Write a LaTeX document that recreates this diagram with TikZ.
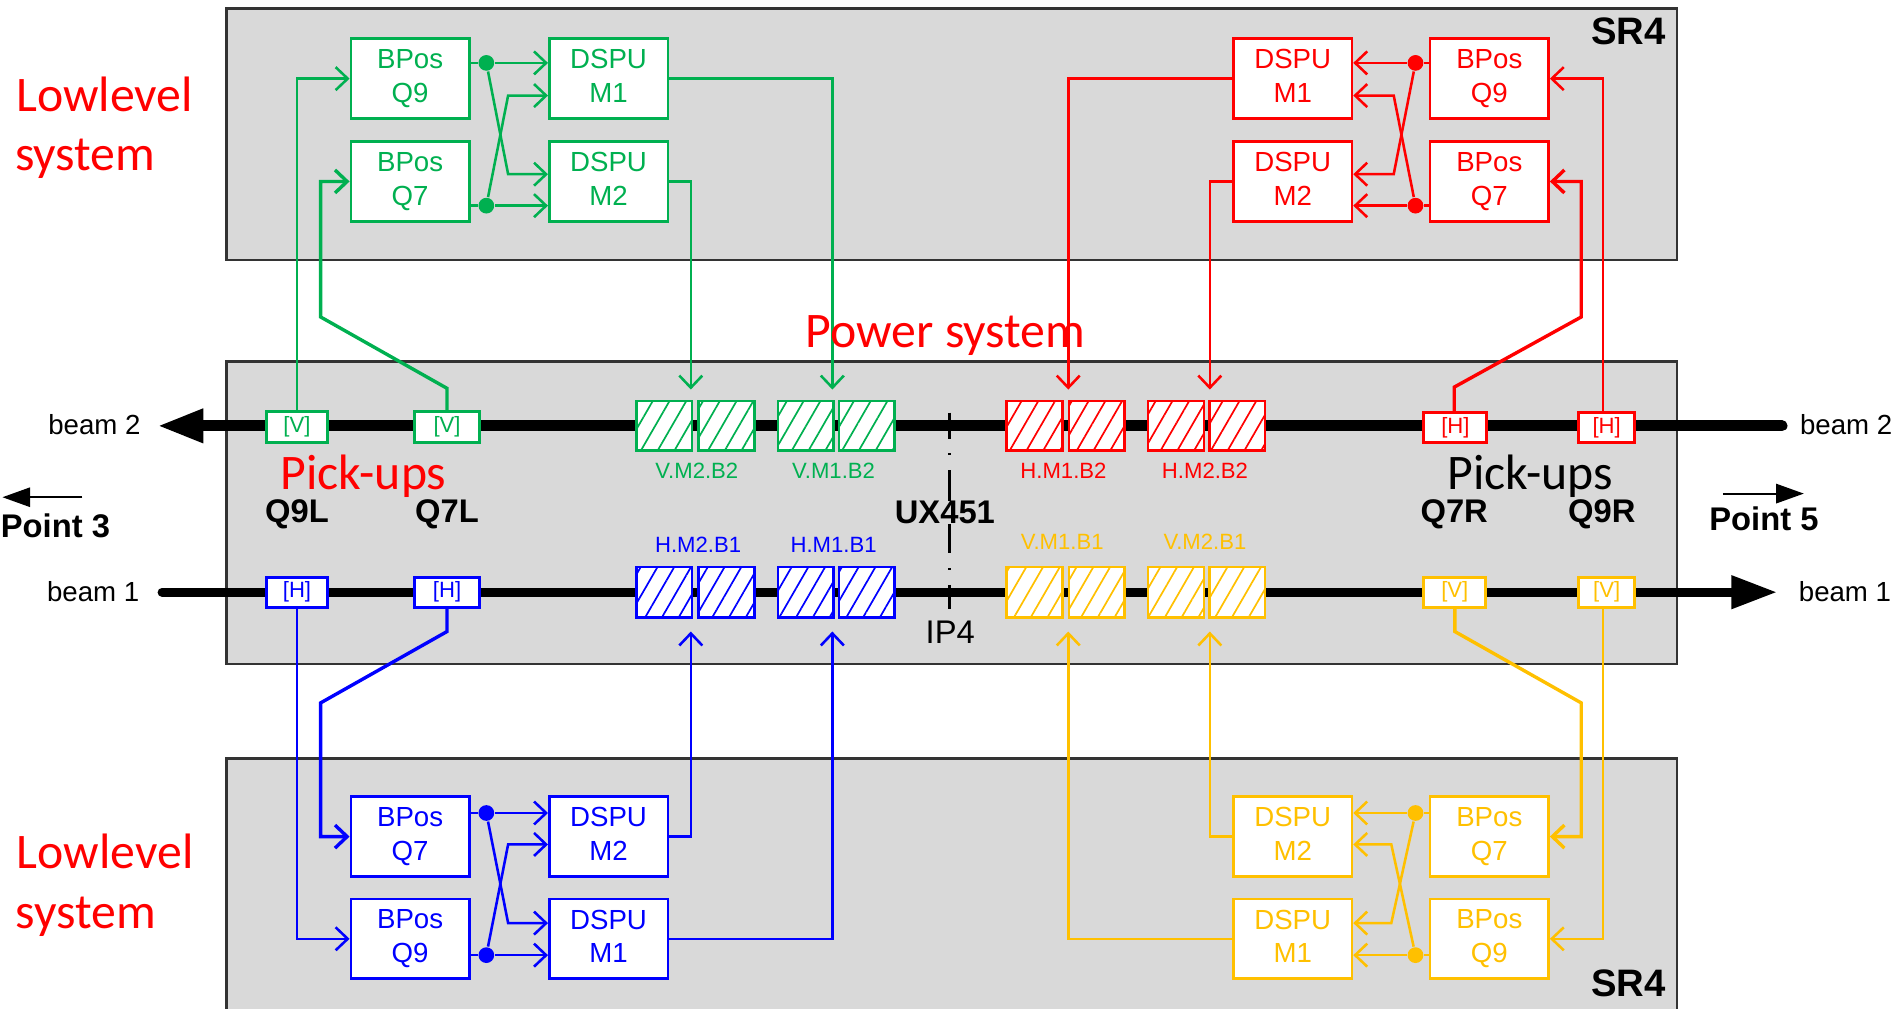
\documentclass[tikz,border=0pt]{standalone}
\usepackage{xcolor}
\usepackage{fontspec}
\setmainfont{Liberation Sans}
\newfontfamily\calfont{Carlito}
\usetikzlibrary{arrows.meta,patterns.meta}
\definecolor{grn}{HTML}{00B050}
\definecolor{blu}{HTML}{0000FF}
\definecolor{rd}{HTML}{FF0000}
\definecolor{yel}{HTML}{FFC000}
\definecolor{room}{HTML}{D9D9D9}

\begin{document}
\begin{tikzpicture}[x=0.1mm,y=-0.1mm,
    dspbox/.style={draw=#1,fill=white,text=#1,line width=0.6pt,minimum width=9.8mm,minimum height=6.6mm,inner sep=0pt,align=center,font=\fontsize{6.5}{7.9}\selectfont},
    pickbox/.style={draw=#1,fill=white,text=#1,line width=0.7pt,minimum height=2.5mm,inner sep=0pt,font=\fontsize{5.2}{6}\selectfont},
    magnet/.style={draw=#1,fill=white,line width=0.6pt,minimum width=4.6mm,minimum height=4.1mm,inner sep=0pt,postaction={pattern={Lines[angle=60,distance=1.2mm,line width=0.4pt]},pattern color=#1}},
    junction/.style={circle,fill=#1,minimum size=1.3mm,inner sep=0pt},
    wire/.style={draw=#1,line width=0.6pt},
    sig/.style={draw=#1,line width=0.6pt,-{Straight Barb[length=1mm,width=1.9mm]}},
    magname/.style={text=#1,font=\fontsize{5.2}{6}\selectfont},
    bigred/.style={text=#1,font=\calfont\fontsize{11.7}{13}\selectfont},
    bold/.style={font=\bfseries\fontsize{7.7}{9}\selectfont},
    beamname/.style={font=\fontsize{6.5}{8}\selectfont},
    hall/.style={draw=black!80,fill=room,line width=0.6pt}]
    \useasboundingbox (0,0) rectangle (1568,834);

    % Gray halls
    \draw[hall] (187,7) rectangle (1386,215);
    \draw[hall] (187,299) rectangle (1386,549);
    \fill[room] (187,627) rectangle (1386,834);
    \draw[black!80,line width=0.6pt] (187,834) -- (187,627) -- (1386,627) -- (1386,834);

    % Beam lines
    \coordinate (b2right) at (1473,352);
    \coordinate (b2left) at (130,352);
    \coordinate (b1left) at (134,489.5);
    \coordinate (b1right) at (1469,489.5);
    \draw[line width=0.9mm,line cap=round,-{Triangle[length=3.8mm,width=2.6mm]}] (b2right) -- (b2left);
    \draw[line width=0.75mm,line cap=round,-{Triangle[length=3.8mm,width=2.6mm]}] (b1left) -- (b1right);

    % IP line
    \coordinate (iptop) at (785,341);
    \coordinate (ipbot) at (785,503);
    \draw[black,line width=0.6pt,dash pattern=on 2.2mm off 1.15mm on 0.2mm off 1.2mm on 6.9mm off 1.2mm on 0.2mm off 1.2mm on 2.1mm] (iptop) -- (ipbot);

    % Top left, green
    \node[dspbox=grn] (gq9) at (339,65) {BPos\\Q9};
    \node[dspbox=grn] (gq7) at (339,150) {BPos\\Q7};
    \node[dspbox=grn] (gm1) at (503,65) {DSPU\\M1\vphantom{Q}};
    \node[dspbox=grn] (gm2) at (503,150) {DSPU\\M2\vphantom{Q}};
    \node[junction=grn] (gd1) at (402,52) {};
    \node[junction=grn] (gd2) at (402,170) {};
    \coordinate (gc1) at (420,79);
    \coordinate (gc2) at (420,144);
    \draw[wire=grn] (gd1 -| gq9.east) -- (gd1);
    \draw[wire=grn] (gd2 -| gq7.east) -- (gd2);
    \draw[sig=grn] (gd1) -- (gd1 -| gm1.west);
    \draw[sig=grn] (gd2) -- (gd2 -| gm2.west);
    \draw[sig=grn] (gd1) -- (gc2) -- (gc2 -| gm2.west);
    \draw[sig=grn] (gd2) -- (gc1) -- (gc1 -| gm1.west);

    % Top right, red
    \node[dspbox=rd] (rq9) at (1231,65) {BPos\\Q9};
    \node[dspbox=rd] (rq7) at (1231,150) {BPos\\Q7};
    \node[dspbox=rd] (rm1) at (1068.5,65) {DSPU\\M1\vphantom{Q}};
    \node[dspbox=rd] (rm2) at (1068.5,150) {DSPU\\M2\vphantom{Q}};
    \node[junction=rd] (rd1) at (1170,52) {};
    \node[junction=rd] (rd2) at (1170,170) {};
    \coordinate (rc1) at (1152,79);
    \coordinate (rc2) at (1152,144);
    \draw[wire=rd] (rd1 -| rq9.west) -- (rd1);
    \draw[wire=rd] (rd2 -| rq7.west) -- (rd2);
    \draw[sig=rd] (rd1) -- (rd1 -| rm1.east);
    \draw[sig=rd] (rd2) -- (rd2 -| rm2.east);
    \draw[sig=rd] (rd1) -- (rc2) -- (rc2 -| rm2.east);
    \draw[sig=rd] (rd2) -- (rc1) -- (rc1 -| rm1.east);

    % Bottom left, blue
    \node[dspbox=blu] (bq7) at (339,691.5) {BPos\\Q7};
    \node[dspbox=blu] (bq9) at (339,776) {BPos\\Q9};
    \node[dspbox=blu] (bm2) at (503,691.5) {DSPU\\M2\vphantom{Q}};
    \node[dspbox=blu] (bm1) at (503,776) {DSPU\\M1\vphantom{Q}};
    \node[junction=blu] (bd1) at (402,672) {};
    \node[junction=blu] (bd2) at (402,789.5) {};
    \coordinate (bc1) at (420,698);
    \coordinate (bc2) at (420,763);
    \draw[wire=blu] (bd1 -| bq7.east) -- (bd1);
    \draw[wire=blu] (bd2 -| bq9.east) -- (bd2);
    \draw[sig=blu] (bd1) -- (bd1 -| bm2.west);
    \draw[sig=blu] (bd2) -- (bd2 -| bm1.west);
    \draw[sig=blu] (bd1) -- (bc2) -- (bc2 -| bm1.west);
    \draw[sig=blu] (bd2) -- (bc1) -- (bc1 -| bm2.west);

    % Bottom right, yellow
    \node[dspbox=yel] (yq7) at (1231,691.5) {BPos\\Q7};
    \node[dspbox=yel] (yq9) at (1231,776) {BPos\\Q9};
    \node[dspbox=yel] (ym2) at (1068.5,691.5) {DSPU\\M2\vphantom{Q}};
    \node[dspbox=yel] (ym1) at (1068.5,776) {DSPU\\M1\vphantom{Q}};
    \node[junction=yel] (yd1) at (1170,672) {};
    \node[junction=yel] (yd2) at (1170,789.5) {};
    \coordinate (yc1) at (1150,698);
    \coordinate (yc2) at (1150,763);
    \draw[wire=yel] (yd1 -| yq7.west) -- (yd1);
    \draw[wire=yel] (yd2 -| yq9.west) -- (yd2);
    \draw[sig=yel] (yd1) -- (yd1 -| ym2.east);
    \draw[sig=yel] (yd2) -- (yd2 -| ym1.east);
    \draw[sig=yel] (yd1) -- (yc2) -- (yc2 -| ym1.east);
    \draw[sig=yel] (yd2) -- (yc1) -- (yc1 -| ym2.east);

    % Magnets beam 2
    \node[magnet=grn] (gv2a) at (549,352) {};
    \node[magnet=grn] (gv2b) at (600.5,352) {};
    \node[magnet=grn] (gv1a) at (666,352) {};
    \node[magnet=grn] (gv1b) at (716.5,352) {};
    \node[magnet=rd] (rh1a) at (855,352) {};
    \node[magnet=rd] (rh1b) at (906.5,352) {};
    \node[magnet=rd] (rh2a) at (972,352) {};
    \node[magnet=rd] (rh2b) at (1022.5,352) {};

    % Magnets beam 1
    \node[magnet=blu,minimum height=4.2mm] (bh2a) at (549,489.5) {};
    \node[magnet=blu,minimum height=4.2mm] (bh2b) at (600.5,489.5) {};
    \node[magnet=blu,minimum height=4.2mm] (bh1a) at (666,489.5) {};
    \node[magnet=blu,minimum height=4.2mm] (bh1b) at (716.5,489.5) {};
    \node[magnet=yel,minimum height=4.2mm] (yv1a) at (855,489.5) {};
    \node[magnet=yel,minimum height=4.2mm] (yv1b) at (906.5,489.5) {};
    \node[magnet=yel,minimum height=4.2mm] (yv2a) at (972,489.5) {};
    \node[magnet=yel,minimum height=4.2mm] (yv2b) at (1022.5,489.5) {};

    % Pick-up boxes
    \node[pickbox=grn,minimum width=5.1mm] (gp9) at (245.5,353) {[V]};
    \node[pickbox=grn,minimum width=5.3mm] (gp7) at (369.5,353) {[V]};
    \node[pickbox=rd,minimum width=5.2mm] (rp7) at (1203,353.5) {[H]};
    \node[pickbox=rd,minimum width=4.6mm] (rp9) at (1328,353.5) {[H]};
    \node[pickbox=blu,minimum width=5.1mm] (bp9) at (245.5,489.5) {[H]};
    \node[pickbox=blu,minimum width=5.3mm] (bp7) at (369.5,489.5) {[H]};
    \node[pickbox=yel,minimum width=5.1mm] (yp7) at (1202.5,489.5) {[V]};
    \node[pickbox=yel,minimum width=4.6mm] (yp9) at (1328,489.5) {[V]};

    % Feedback wires, green
    \coordinate (gt1) at (571,322);
    \coordinate (gt2) at (688,322);
    \coordinate (gk1) at (369.5,321);
    \coordinate (gk2) at (265,262);
    \draw[sig=grn] (gp9.north) |- (gq9.west);
    \draw[sig=grn,line width=0.8pt] (gp7.north) -- (gk1) -- (gk2) |- (gq7.west);
    \draw[sig=grn] (gm1.east) -| (gt2);
    \draw[sig=grn] (gm2.east) -| (gt1);

    % Feedback wires, red
    \coordinate (rt1) at (883,322);
    \coordinate (rt2) at (1000,322);
    \coordinate (rk1) at (1202,320);
    \coordinate (rk2) at (1307,262);
    \draw[sig=rd] ([xshift=-0.3mm]rp9.north) |- (rq9.east);
    \draw[sig=rd,line width=0.8pt] (rk1 |- rp7.north) -- (rk1) -- (rk2) |- (rq7.east);
    \draw[sig=rd] (rm1.west) -| (rt1);
    \draw[sig=rd] (rm2.west) -| (rt2);

    % Feedback wires, blue
    \coordinate (bt1) at (571,522);
    \coordinate (bt2) at (688,522);
    \coordinate (bk1) at (369.5,522);
    \coordinate (bk2) at (265,581);
    \draw[sig=blu] (bp9.south) |- (bq9.west);
    \draw[sig=blu,line width=0.8pt] (bp7.south) -- (bk1) -- (bk2) |- (bq7.west);
    \draw[sig=blu] (bm2.east) -| (bt1);
    \draw[sig=blu] (bm1.east) -| (bt2);

    % Feedback wires, yellow
    \coordinate (yt1) at (883,522);
    \coordinate (yt2) at (1000,522);
    \coordinate (yk1) at (1202.5,522);
    \coordinate (yk2) at (1307,581);
    \draw[sig=yel] ([xshift=-0.3mm]yp9.south) |- (yq9.east);
    \draw[sig=yel,line width=0.8pt] (yp7.south) -- (yk1) -- (yk2) |- (yq7.east);
    \draw[sig=yel] (ym2.west) -| (yt2);
    \draw[sig=yel] (ym1.west) -| (yt1);

    % Magnet names
    \node[magname=grn] (lvm2) at (576,389) {V.M2.B2};
    \node[magname=grn] (lvm1) at (689,389) {V.M1.B2};
    \node[magname=rd] (lhm1) at (879,389) {H.M1.B2};
    \node[magname=rd] (lhm2) at (996,389) {H.M2.B2};
    \node[magname=blu] (lbh2) at (577,450) {H.M2.B1};
    \node[magname=blu] (lbh1) at (689,450) {H.M1.B1};
    \node[magname=yel] (lyv1) at (878,448) {V.M1.B1};
    \node[magname=yel] (lyv2) at (996,448) {V.M2.B1};

    % Position names
    \node[bold] (q9l) at (245.5,425) {Q9L};
    \node[bold] (q7l) at (369.5,425) {Q7L};
    \node[bold] (q7r) at (1202,425) {Q7R};
    \node[bold] (q9r) at (1324,425) {Q9R};
    \node[bold,fill=room,inner sep=0pt] (ux) at (781,423.5) {UX451};
    \node[font=\fontsize{7.7}{9}\selectfont] (ip) at (785.5,523) {IP4};
    \node[font=\bfseries\fontsize{9}{10}\selectfont] (srtop) at (1346,26) {SR4};
    \node[font=\bfseries\fontsize{9}{10}\selectfont] (srbot) at (1346,813) {SR4};

    % System names
    \node[bigred=rd] (ll1) at (86.5,78) {Lowlevel};
    \node[bigred=rd] (sy1) at (70.5,131) {system};
    \node[bigred=rd] (ll2) at (87,704) {Lowlevel};
    \node[bigred=rd] (sy2) at (71,758) {system};
    \node[bigred=rd] (pow) at (781.5,277) {Power system};
    \node[bigred=rd] (pu1) at (300.5,394) {Pick-ups};
    \node[bigred=black] (pu2) at (1265,394) {Pick-ups};

    % Beam names and directions
    \node[beamname] (lb2l) at (78,351) {beam 2};
    \node[beamname] (lb1l) at (77,489) {beam 1};
    \node[beamname] (lb2r) at (1526,351) {beam 2};
    \node[beamname] (lb1r) at (1525,489) {beam 1};
    \node[bold,anchor=west,inner sep=0pt] (pt3) at (0,435) {Point 3};
    \node[bold] (pt5) at (1458,429) {Point 5};
    \coordinate (p3a) at (68,411);
    \coordinate (p3b) at (2,411);
    \coordinate (p5a) at (1424,408);
    \coordinate (p5b) at (1491,408);
    \draw[line width=0.5pt,-{Triangle[length=2.3mm,width=1.6mm]}] (p3a) -- (p3b);
    \draw[line width=0.5pt,-{Triangle[length=2.3mm,width=1.6mm]}] (p5a) -- (p5b);
\end{tikzpicture}
\end{document}
